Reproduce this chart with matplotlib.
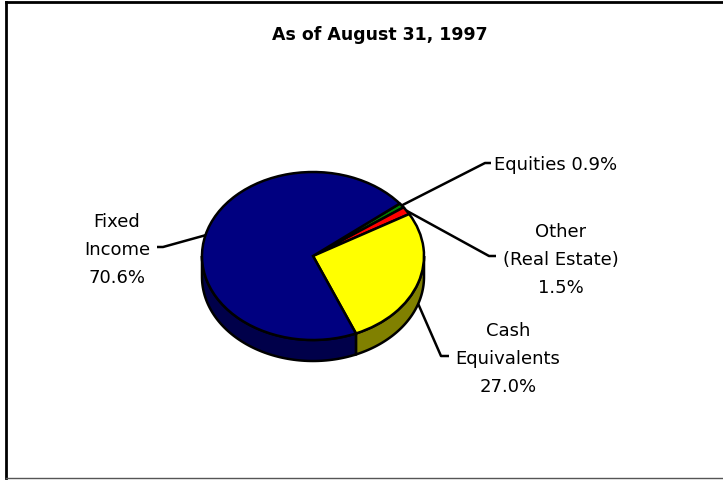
import numpy as np
import matplotlib.pyplot as plt
from matplotlib.patches import Polygon
from matplotlib.lines import Line2D

# dados do grafico (sentido horario a partir de 38.6 graus)
categorias = ['Equities', 'Other\n(Real Estate)', 'Cash\nEquivalents', 'Fixed\nIncome']
valores = [0.9, 1.5, 27.0, 70.6]
separadores = [' ', '\n', '\n', '\n']
cores_topo = ['#008000', '#ff0000', '#ffff00', '#000080']
cores_lado = ['#004000', '#800000', '#808000', '#00004a']
titulo = 'As of August 31, 1997'

# geometria da pizza em pixels da imagem
CX, CY, RX, RY = 313, 257, 111, 84
PROF = 21 / RY  # espessura do "3D"
W, H = 723, 481


def px(x, y):
    # pixel da imagem -> coordenada de dados
    return (x - CX) / RX, (CY - y) / RY


fig = plt.figure(figsize=(W / 100, H / 100), dpi=100)
ax = fig.add_axes([0, 0, 1, 1])
fatias, _ = ax.pie(valores, colors=cores_topo, startangle=38.6, counterclock=False,
                   radius=1, frame=True,
                   wedgeprops=dict(edgecolor='black', linewidth=1.8, zorder=3))

# lateral visivel (metade de baixo)
for fatia, cor in zip(fatias, cores_lado):
    for k in range(-2, 2):
        a = max(fatia.theta1, 180 + 360 * k)
        b = min(fatia.theta2, 360 + 360 * k)
        if a < b:
            t = np.radians(np.linspace(a, b, 80))
            xs, ys = np.cos(t), np.sin(t)
            verts = np.column_stack([np.r_[xs, xs[::-1]], np.r_[ys, ys[::-1] - PROF]])
            ax.add_patch(Polygon(verts, closed=True, facecolor=cor, edgecolor='black',
                                 linewidth=1.8, zorder=2))

# rotulos e linhas de chamada
pos_texto = [(494, 165), (561, 260), (508, 359), (117, 250)]
alinhamento = ['left', 'center', 'center', 'center']
cotovelos = [(485, 164), (489, 257), (441, 357), (163, 248)]
pontas = [(491, 164), (496, 257), (449, 357), (157, 248)]

for fatia, cat, val, sep, pt, ha, cot, pon in zip(fatias, categorias, valores, separadores,
                                                  pos_texto, alinhamento, cotovelos, pontas):
    m = np.radians((fatia.theta1 + fatia.theta2) / 2)
    x0, y0 = np.cos(m), np.sin(m)
    if y0 < 0:
        y0 -= PROF
    x1, y1 = px(*cot)
    x2, y2 = px(*pon)
    ax.plot([x0, x1, x2], [y0, y1, y2], color='black', linewidth=1.8, zorder=4,
            solid_capstyle='butt')
    tx, ty = px(*pt)
    ax.text(tx, ty, f'{cat}{sep}{val:.1f}%', ha=ha, va='center', fontsize=13,
            linespacing=1.7, color='black')

ax.set_aspect('auto')
ax.set_xlim(-CX / RX, (W - CX) / RX)
ax.set_ylim((CY - H) / RY, CY / RY)
ax.axis('off')

fig.text(380 / W, 1 - 35 / H, titulo, ha='center', va='center', fontsize=12.5,
         fontweight='bold', color='black')

# moldura
fig.add_artist(Line2D([6 / W, 6 / W], [1 - 3 / H, 1 - 479 / H], transform=fig.transFigure,
                      color='black', linewidth=2.0))
fig.add_artist(Line2D([6 / W, 1], [1 - 3 / H, 1 - 3 / H], transform=fig.transFigure,
                      color='black', linewidth=2.0))
fig.add_artist(Line2D([6 / W, 1], [1 - 479 / H, 1 - 479 / H], transform=fig.transFigure,
                      color='#555555', linewidth=1.0))

fig.savefig('out.png', dpi=100)
